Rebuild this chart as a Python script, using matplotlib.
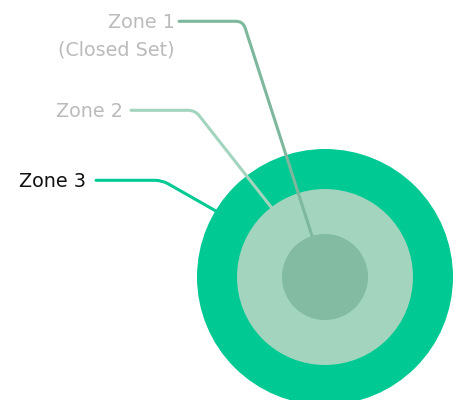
import matplotlib
matplotlib.use("Agg")
import matplotlib.pyplot as plt
from matplotlib.patches import Circle, PathPatch
from matplotlib.path import Path
import numpy as np

# Data
zones = ["Zone 1\n(Closed Set)", "Zone 2", "Zone 3"]
radii = [43, 88, 128]
fill_colors = ["#82BAA2", "#A3D5BE", "#00C994"]
line_colors = ["#7DB89D", "#A3D5BE", "#00C994"]
text_colors = ["#BBBBBB", "#BBBBBB", "#111111"]

W, H = 462, 400
fig = plt.figure(figsize=(W / 100, H / 100), dpi=100)
ax = fig.add_axes([0, 0, 1, 1])
ax.set_xlim(0, W)
ax.set_ylim(H, 0)
ax.set_aspect("equal")
ax.axis("off")

cx, cy = 325, 277
# leader geometry: (text right x, text baseline y, line start x, corner x, angle on circle in deg)
leaders = [(175, 28.3, 179, 243, 107.5), (123, 117.3, 131, 195, 127.6), (86, 187.3, 96, 162, 148.8)]

# z-order: outer, line3, line2, middle, line1, inner
circle_z = [6, 4, 1]
line_z = [5, 3, 2]

for r, c, z in zip(radii, fill_colors, circle_z):
    ax.add_patch(Circle((cx, cy), r, color=c, ec="none", zorder=z))

for i, (name, r, lc, tc) in enumerate(zip(zones, radii, line_colors, text_colors)):
    tx, tb, sx, kx, ang = leaders[i]
    ly = tb - 7
    ex = cx + (r - 3) * np.cos(np.radians(ang))
    ey = cy - (r - 3) * np.sin(np.radians(ang))
    d = np.array([ex - kx, ey - ly])
    d = d / np.hypot(*d)
    rc = 7
    p0 = (kx - rc, ly)
    p2 = (kx + d[0] * rc, ly + d[1] * rc)
    verts = [(sx, ly), p0, (kx, ly), p2, (ex, ey)]
    codes = [Path.MOVETO, Path.LINETO, Path.CURVE3, Path.CURVE3, Path.LINETO]
    ax.add_patch(PathPatch(Path(verts, codes), fc="none", ec=lc, lw=2.2,
                           capstyle="round", joinstyle="round", zorder=line_z[i]))
    for j, t in enumerate(name.split("\n")):
        ax.text(tx, tb + j * 26.7, t, ha="right", va="baseline", color=tc,
                fontsize=13.8, family="DejaVu Sans", zorder=10)

fig.savefig("out.png", dpi=100)
